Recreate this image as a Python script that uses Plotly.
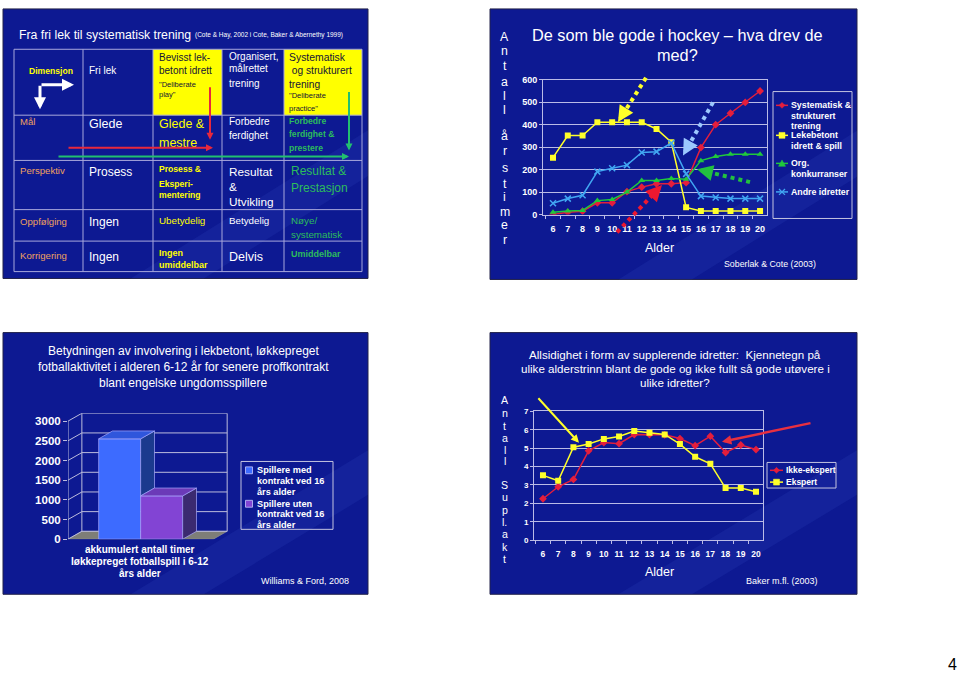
import math
import plotly.graph_objects as go

W, H = 960, 677
FONT = "Arial, Liberation Sans, sans-serif"

# ---------------------------------------------------------------- data
ages = list(range(6, 21))
age_labels = [str(a) for a in ages]

# Hockey (Soberlak & Cote 2003) - annual hours
hockey_systematisk = [0, 10, 15, 52, 52, 102, 122, 137, 137, 142, 298, 400, 451, 499, 550]
hockey_lekebetont = [253, 352, 352, 411, 411, 411, 411, 381, 322, 32, 16, 16, 16, 16, 16]
hockey_org = [10, 16, 18, 62, 67, 100, 152, 152, 160, 157, 240, 258, 268, 268, 268]
hockey_andre = [50, 71, 86, 191, 206, 220, 276, 280, 318, 181, 82, 76, 71, 71, 71]
hockey_names = [["Systematisk &", "strukturert", "trening"],
                ["Lekebetont", "idrett & spill"],
                ["Org.", "konkurranser"],
                ["Andre idretter"]]
hockey_ticks = [0, 100, 200, 300, 400, 500, 600]

# Supplementary sports (Baker m.fl. 2003)
supl_ikke = [2.25, 2.9, 3.3, 4.85, 5.3, 5.24, 5.74, 5.74, 5.72, 5.52, 5.13, 5.65, 4.76, 5.17, 4.92]
supl_ekspert = [3.52, 3.23, 5.05, 5.22, 5.5, 5.63, 5.93, 5.83, 5.74, 5.22, 4.53, 4.15, 2.83, 2.83, 2.63]
supl_names = ["Ikke-ekspert", "Ekspert"]
supl_ticks = [0, 1, 2, 3, 4, 5, 6, 7]

# Williams & Ford 2008 - accumulated hours
bar_names = [["Spillere med", "kontrakt ved 16", "års alder"],
             ["Spillere uten", "kontrakt ved 16", "års alder"]]
bar_values = [2550, 1100]
bar_ticks = [0, 500, 1000, 1500, 2000, 2500, 3000]
bar_category = ["akkumulert antall timer", "løkkepreget fotballspill i 6-12", "års alder"]

fig = go.Figure()

# ---------------------------------------------------------------- helpers
def X(x):
    return x / W


def Y(y):
    return 1 - y / H


shapes, anns = [], []


def txt(x, y, s, size, color="white", bold=False, xa="left", ya="middle", align="left"):
    if bold:
        s = "<b>" + s + "</b>"
    anns.append(dict(x=X(x), y=Y(y), xref="paper", yref="paper", text=s, showarrow=False,
                     xanchor=xa, yanchor=ya, align=align,
                     font=dict(family=FONT, size=size, color=color)))


def arrow(x0, y0, x1, y1, color, width, size=1.0, head=2):
    anns.append(dict(x=X(x1), y=Y(y1), xref="paper", yref="paper", ax=x0 - x1, ay=y0 - y1,
                     axref="pixel", ayref="pixel", text="", showarrow=True, arrowhead=head,
                     arrowsize=size, arrowwidth=width, arrowcolor=color, standoff=0,
                     startstandoff=0))


def pline(x0, y0, x1, y1, color, width=1, dash="solid", layer="above"):
    shapes.append(dict(type="line", xref="paper", yref="paper", x0=X(x0), y0=Y(y0),
                       x1=X(x1), y1=Y(y1), layer=layer,
                       line=dict(color=color, width=width, dash=dash)))


def prect(x0, y0, x1, y1, fill, line=None, lw=0, layer="below", opacity=1):
    shapes.append(dict(type="rect", xref="paper", yref="paper", x0=X(x0), y0=Y(y0),
                       x1=X(x1), y1=Y(y1), layer=layer, fillcolor=fill, opacity=opacity,
                       line=dict(color=line or fill, width=lw)))


def ppath(pts, fill, line=None, lw=0.5, layer="above"):
    d = "M " + " L ".join(f"{X(a):.5f},{Y(b):.5f}" for a, b in pts) + " Z"
    shapes.append(dict(type="path", xref="paper", yref="paper", path=d, fillcolor=fill,
                       layer=layer, line=dict(color=line or fill, width=lw)))


def dotted_arrow(x0, y0, x1, y1, color):
    L = math.hypot(x0 - x1, y0 - y1)
    ux, uy = (x0 - x1) / L, (y0 - y1) / L
    pline(x0, y0, x1 + ux * 12, y1 + uy * 12, color, 4, "dot")
    arrow(x1 + ux * 16, y1 + uy * 16, x1, y1, color, 4, 0.8)


def legend_symbol(cx, cy, symbol, color):
    s = 3
    if symbol == "diamond":
        ppath([(cx, cy - s), (cx + s, cy), (cx, cy + s), (cx - s, cy)], color, color)
    elif symbol == "square":
        prect(cx - s, cy - s, cx + s, cy + s, color, color, 0.5, layer="above")
    elif symbol == "triangle":
        ppath([(cx, cy - s - 0.5), (cx + s + 0.5, cy + s), (cx - s - 0.5, cy + s)], color, color)
    elif symbol == "x":
        pline(cx - s, cy - s, cx + s, cy + s, color, 1.3)
        pline(cx - s, cy + s, cx + s, cy - s, color, 1.3)


# ---------------------------------------------------------------- slide backgrounds
slides = [(3, 4, 368, 278), (490, 4, 857, 279), (3, 333, 368, 599), (490, 333, 857, 599)]
for (a, b, c, d) in slides:
    prect(a, b, c, d, "#0d1992", "#22224a", 1)
    # soft lighter band
    ppath([(a + 0.35 * (c - a), d), (c, b + 0.45 * (d - b)), (c, b + 0.62 * (d - b)),
           (a + 0.55 * (c - a), d)], "rgba(70,100,220,0.13)", "rgba(0,0,0,0)", 0, layer="below")

# ---------------------------------------------------------------- slide 1: table
txt(17, 30, "Fra fri lek til systematisk trening", 12.3)
txt(193, 31, "(Cote &amp; Hay, 2002 i Cote, Baker &amp; Abernethy 1999)", 6.5)

cols = [14, 83, 153, 222, 284, 362]
rows = [45, 112, 158, 208, 240, 271]
YEL = "#ffff00"
prect(cols[2], rows[0], cols[3], rows[1], YEL, layer="above")
prect(cols[4], rows[0], cols[5], rows[1], YEL, layer="above")
GRID = "#a8a8dc"
for r in rows:
    pline(cols[0], r, cols[-1], r, GRID, 1)
for c in cols:
    pline(c, rows[0], c, rows[-1], GRID, 1)

ORA = "#eea060"
GRN = "#2cbc5c"
DARK = "#141436"
# header row
txt(27, 67, "Dimensjon", 8.6, YEL, True)
txt(87, 67, "Fri lek", 10)
txt(157, 53, "Bevisst lek-", 10, DARK)
txt(157, 67, "betont idrett", 10, DARK)
txt(157, 81, "\"Deliberate", 7.5, DARK)
txt(157, 91, "play\"", 7.5, DARK)
txt(227, 52, "Organisert,", 10)
txt(227, 64.5, "målrettet", 10)
txt(227, 80, "trening", 10)
txt(287, 53, "Systematisk", 10.4, DARK)
txt(287, 67, " og strukturert", 10.2, DARK)
txt(287, 80.5, "trening", 10.2, DARK)
txt(287, 92.5, "\"Deliberate", 7.5, DARK)
txt(287, 105, "practice\"", 7.5, DARK)
# white L arrow
arrow(40, 81, 40, 106, "white", 3, 0.8)
arrow(40, 81, 74, 81, "white", 3, 0.8)
# Mål
txt(18, 118, "Mål", 9.5, ORA)
txt(87, 121, "Glede", 12.5)
txt(157, 121, "Glede &amp;", 12.5, YEL)
txt(157, 140, "mestre", 12.5, YEL)
txt(227, 118, "Forbedre", 10)
txt(227, 133, "ferdighet", 10)
txt(287, 118, "Forbedre", 8.6, GRN, True)
txt(287, 131, "ferdighet &amp;", 8.6, GRN, True)
txt(287, 145, "prestere", 8.6, GRN, True)
# Perspektiv
txt(18, 168, "Perspektiv", 9.6, ORA)
txt(87, 170, "Prosess", 12)
txt(157, 167, "Prosess &amp;", 8.6, YEL, True)
txt(157, 181.5, "Eksperi-", 8.6, YEL, True)
txt(157, 193, "mentering", 8.6, YEL, True)
txt(227, 170, "Resultat", 11.8)
txt(227, 185, "&amp;", 11.8)
txt(227, 200, "Utvikling", 11.8)
txt(289, 169, "Resultat &amp;", 12, GRN)
txt(289, 186, "Prestasjon", 12, GRN)
# Oppfølging
txt(18, 220, "Oppfølging", 9.6, ORA)
txt(87, 221, "Ingen", 12)
txt(157, 219, "Ubetydelig", 9.8, YEL)
txt(227, 219, "Betydelig", 9.8)
txt(289, 219, "Nøye/", 9.8, GRN)
txt(289, 233, "systematisk", 9.8, GRN)
# Korrigering
txt(18, 255, "Korrigering", 9.6, ORA)
txt(87, 256, "Ingen", 12)
txt(157, 252, "Ingen", 9, YEL, True)
txt(157, 264, "umiddelbar", 9, YEL, True)
txt(227, 256, "Delvis", 12.5)
txt(289, 253, "Umiddelbar", 9, GRN, True)
# red / green arrows
arrow(210, 83, 210, 137, "#e8283c", 2, 0.7)
arrow(67, 145, 213, 145, "#e8283c", 2, 0.7)
arrow(349, 88, 349, 148, "#22c070", 2, 0.7)
arrow(57, 154, 349, 154, "#22c070", 2, 0.7)

# ---------------------------------------------------------------- common colours
RED = "#e41e3c"
YLW = "#ffff2a"
GRE = "#20c83c"
LBL = "#41a6f2"
GRIDC = "rgba(205,205,240,0.9)"
TICKF = dict(family=FONT, size=9, color="white", weight="bold")

# ---------------------------------------------------------------- slide 2: hockey
hockey_series = [(hockey_systematisk, RED, "diamond"), (hockey_lekebetont, YLW, "square"),
                 (hockey_org, GRE, "triangle-up"), (hockey_andre, LBL, "x-thin-open")]
for vals, col, sym in hockey_series:
    mk = dict(symbol=sym, size=6, color=col, line=dict(color=col, width=1.5 if "x" in sym else 0))
    fig.add_trace(go.Scatter(x=ages, y=vals, mode="lines+markers", xaxis="x", yaxis="y",
                             line=dict(color=col, width=1.5), marker=mk, showlegend=False,
                             hoverinfo="skip"))

txt(677, 30, "De som ble gode i hockey – hva drev de", 16.3, ya="middle", xa="center")
txt(677, 51, "med?", 16.3, xa="center")
for ch, yy in zip(list("Antall") + list("årstimer"),
                  [33, 47, 62, 78, 93, 107, 133, 148, 166, 182, 195, 210, 224, 239]):
    txt(505, yy, ch, 12.3, xa="center")
txt(659, 247, "Alder", 12.5, xa="center")
txt(770, 263, "Soberlak &amp; Cote (2003)", 8.8, xa="center")

dotted_arrow(646, 74, 618, 119, YLW)
dotted_arrow(713, 99, 683, 153, "#9cc8ff")
dotted_arrow(750, 180, 697, 167, "#22c040")
dotted_arrow(617, 231, 662, 183, "#ee1830")

# custom legend
prect(773, 88, 852, 217, "rgba(0,0,0,0)", "#c4c4e0", 1, layer="above")
leg_y = [[102, 112.5, 123], [132.5, 143], [161, 171.5], [190]]
for (vals, col, sym), lines, ys in zip(hockey_series, hockey_names, leg_y):
    pline(776, ys[0], 788, ys[0], col, 1.5)
    legend_symbol(782, ys[0], {"diamond": "diamond", "square": "square",
                               "triangle-up": "triangle", "x-thin-open": "x"}[sym], col)
    for ln, yy in zip(lines, ys):
        txt(789, yy, ln.replace("&", "&amp;"), 8.8, "white", True)

# ---------------------------------------------------------------- slide 4: supplementary
supl_series = [(supl_ikke, RED, "diamond"), (supl_ekspert, YLW, "square")]
for vals, col, sym in supl_series:
    fig.add_trace(go.Scatter(x=ages, y=vals, mode="lines+markers", xaxis="x2", yaxis="y2",
                             line=dict(color=col, width=1.5),
                             marker=dict(symbol=sym, size=6, color=col), showlegend=False,
                             hoverinfo="skip"))
txt(675, 355, "Allsidighet i form av supplerende idretter:  Kjennetegn på", 11.6, xa="center")
txt(675, 369.5, "ulike alderstrinn blant de gode og ikke fullt så gode utøvere i", 11.6, xa="center")
txt(675, 384, "ulike idretter?", 11.6, xa="center")
for ch, yy in zip(list("Antall") + ["S", "u", "p", "l.", "a", "k", "t"],
                  [402, 415, 428, 440, 452, 464, 488, 500.5, 513, 525.5, 538, 550.5, 563]):
    txt(505, yy, ch, 10.6, xa="center")
txt(659, 576, "Alder", 12.5, xa="center")
txt(782, 586, "Baker m.fl. (2003)", 9, xa="center")
arrow(537, 399, 579, 445, YLW, 2, 0.8)
arrow(812, 425, 722, 444, "#e83040", 2.5, 0.75)

prect(767, 465, 836, 491, "rgba(0,0,0,0)", "#c4c4e0", 1, layer="above")
for (vals, col, sym), name, yy in zip(supl_series, supl_names, [473, 485]):
    pline(770, yy, 783, yy, col, 1.5)
    legend_symbol(776.5, yy, sym, col)
    txt(784, yy, name, 8.5, "white", True)

# ---------------------------------------------------------------- slide 3: 3D bars
DX, DY = 0.33, 200          # depth offset in axis units
XL, XR = -1.23, 2.23        # floor front edges
bar_front = ["#3d6bff", "#8244d4"]
bar_top = ["#2f56dc", "#6b3ab8"]
bar_side = ["#1b3a8e", "#3b2a70"]
EDGE = "rgba(170,170,255,0.85)"


def dpath(pts):
    return "M " + " L ".join(f"{a},{b}" for a, b in pts) + " Z"


# floor
shapes.append(dict(type="path", xref="x3", yref="y3", layer="below",
                   path=dpath([(XL, 0), (XR, 0), (XR + DX, DY), (XL + DX, DY)]),
                   fillcolor="#7e7e78", line=dict(color="#9a9a98", width=0.6)))
for v in bar_ticks:
    shapes.append(dict(type="line", xref="x3", yref="y3", layer="below", x0=XL + DX, y0=v + DY,
                       x1=XR + DX, y1=v + DY, line=dict(color="#bcbcdc", width=1)))
    shapes.append(dict(type="line", xref="x3", yref="y3", layer="below", x0=XL, y0=v,
                       x1=XL + DX, y1=v + DY, line=dict(color="#bcbcdc", width=1)))
for xx in (XL + DX, XR + DX):
    shapes.append(dict(type="line", xref="x3", yref="y3", layer="below", x0=xx, y0=DY,
                       x1=xx, y1=bar_ticks[-1] + DY, line=dict(color="#bcbcdc", width=1)))
shapes.append(dict(type="line", xref="x3", yref="y3", layer="below", x0=XL, y0=0,
                   x1=XL, y1=bar_ticks[-1], line=dict(color="#bcbcdc", width=1)))

for i, v in enumerate(bar_values):
    fig.add_trace(go.Bar(x=[i], y=[v], width=1, xaxis="x3", yaxis="y3", showlegend=False,
                         marker=dict(color=bar_front[i], line=dict(color=EDGE, width=0.8)),
                         hoverinfo="skip"))


def face(pts, fill):
    xs = [p[0] for p in pts] + [pts[0][0]]
    ys = [p[1] for p in pts] + [pts[0][1]]
    fig.add_trace(go.Scatter(x=xs, y=ys, mode="lines", fill="toself", fillcolor=fill,
                             line=dict(color=EDGE, width=0.8), xaxis="x3", yaxis="y3",
                             showlegend=False, hoverinfo="skip"))


v1, v2 = bar_values
# visible part of first bar's side face (above the second bar)
face([(0.5, min(v1, v2)), (0.5, v1), (0.5 + DX, v1 + DY), (0.5 + DX, min(v1, v2) + DY)], bar_side[0])
face([(-0.5, v1), (0.5, v1), (0.5 + DX, v1 + DY), (-0.5 + DX, v1 + DY)], bar_top[0])
face([(1.5, 0), (1.5, v2), (1.5 + DX, v2 + DY), (1.5 + DX, DY)], bar_side[1])
face([(0.5, v2), (1.5, v2), (1.5 + DX, v2 + DY), (0.5 + DX, v2 + DY)], bar_top[1])

txt(183, 352, "Betydningen av involvering i lekbetont, løkkepreget", 12, xa="center")
txt(183, 368, "fotballaktivitet i alderen 6-12 år for senere proffkontrakt", 12, xa="center")
txt(183, 384, "blant engelske ungdomsspillere", 12, xa="center")
for ln, yy in zip(bar_category, [554, 566, 578]):
    txt(140, yy, ln, 10, "white", True, xa="center")
txt(305, 586, "Williams &amp; Ford, 2008", 9, xa="center")

prect(241, 464, 333, 533, "rgba(0,0,0,0)", "#c4c4e0", 1, layer="above")
for i, (lines, y0) in enumerate(zip(bar_names, [473, 507])):
    prect(245.5, y0 - 3.5, 252.5, y0 + 3.5, bar_front[i], "#c8c8ff", 0.8, layer="above")
    for k, ln in enumerate(lines):
        txt(255, y0 + k * 10.8, ln, 9.2, "white", True)

# page number
txt(959, 670, "4", 16, "black", xa="right")

# ---------------------------------------------------------------- layout
fig.update_layout(
    width=W, height=H, margin=dict(l=0, r=0, t=0, b=0), showlegend=False,
    paper_bgcolor="white", plot_bgcolor="rgba(0,0,0,0)", barmode="overlay",
    shapes=shapes, annotations=anns,
    xaxis=dict(domain=[X(543), X(767)], range=[5.324, 20.47], anchor="y",
               tickvals=ages, ticktext=age_labels, tickfont=TICKF, ticks="",
               ticklabelstandoff=6, showgrid=False, zeroline=False,
               showline=True, mirror=True, linecolor=GRIDC, linewidth=1,
               minor=dict(tickvals=[a - 0.5 for a in ages] + [ages[-1] + 0.5],
                          ticks="outside", ticklen=3, tickcolor=GRIDC)),
    yaxis=dict(domain=[Y(213), Y(76)], range=[0, 600], anchor="x", tickvals=hockey_ticks,
               tickfont=TICKF, ticks="outside", ticklen=3, tickcolor=GRIDC,
               showgrid=True, gridcolor=GRIDC, gridwidth=1, zeroline=False,
               showline=True, mirror=True, linecolor=GRIDC),
    xaxis2=dict(domain=[X(534), X(763)], range=[5.41, 20.46], anchor="y2",
                tickvals=ages, ticktext=age_labels, tickfont=dict(TICKF, size=8.5), ticks="",
                ticklabelstandoff=6, showgrid=False, zeroline=False,
                showline=True, mirror=True, linecolor=GRIDC,
                minor=dict(tickvals=[a - 0.5 for a in ages] + [ages[-1] + 0.5],
                           ticks="outside", ticklen=3, tickcolor=GRIDC)),
    yaxis2=dict(domain=[Y(544), Y(413)], range=[0, 7], anchor="x2", tickvals=supl_ticks,
                tickfont=dict(TICKF, size=8), ticks="outside", ticklen=3, tickcolor=GRIDC,
                showgrid=True, gridcolor=GRIDC, zeroline=False,
                showline=True, mirror=True, linecolor=GRIDC),
    xaxis3=dict(domain=[X(68), X(228)], range=[-1.23, 2.58], anchor="y3", visible=False),
    yaxis3=dict(domain=[Y(543), Y(415)], range=[0, 3200], anchor="x3", tickvals=bar_ticks,
                tickfont=dict(TICKF, size=11.5), ticks="outside", ticklen=4,
                tickcolor="#bcbcdc", showgrid=False, zeroline=False, showline=False),
)

fig.write_html("out.html")
